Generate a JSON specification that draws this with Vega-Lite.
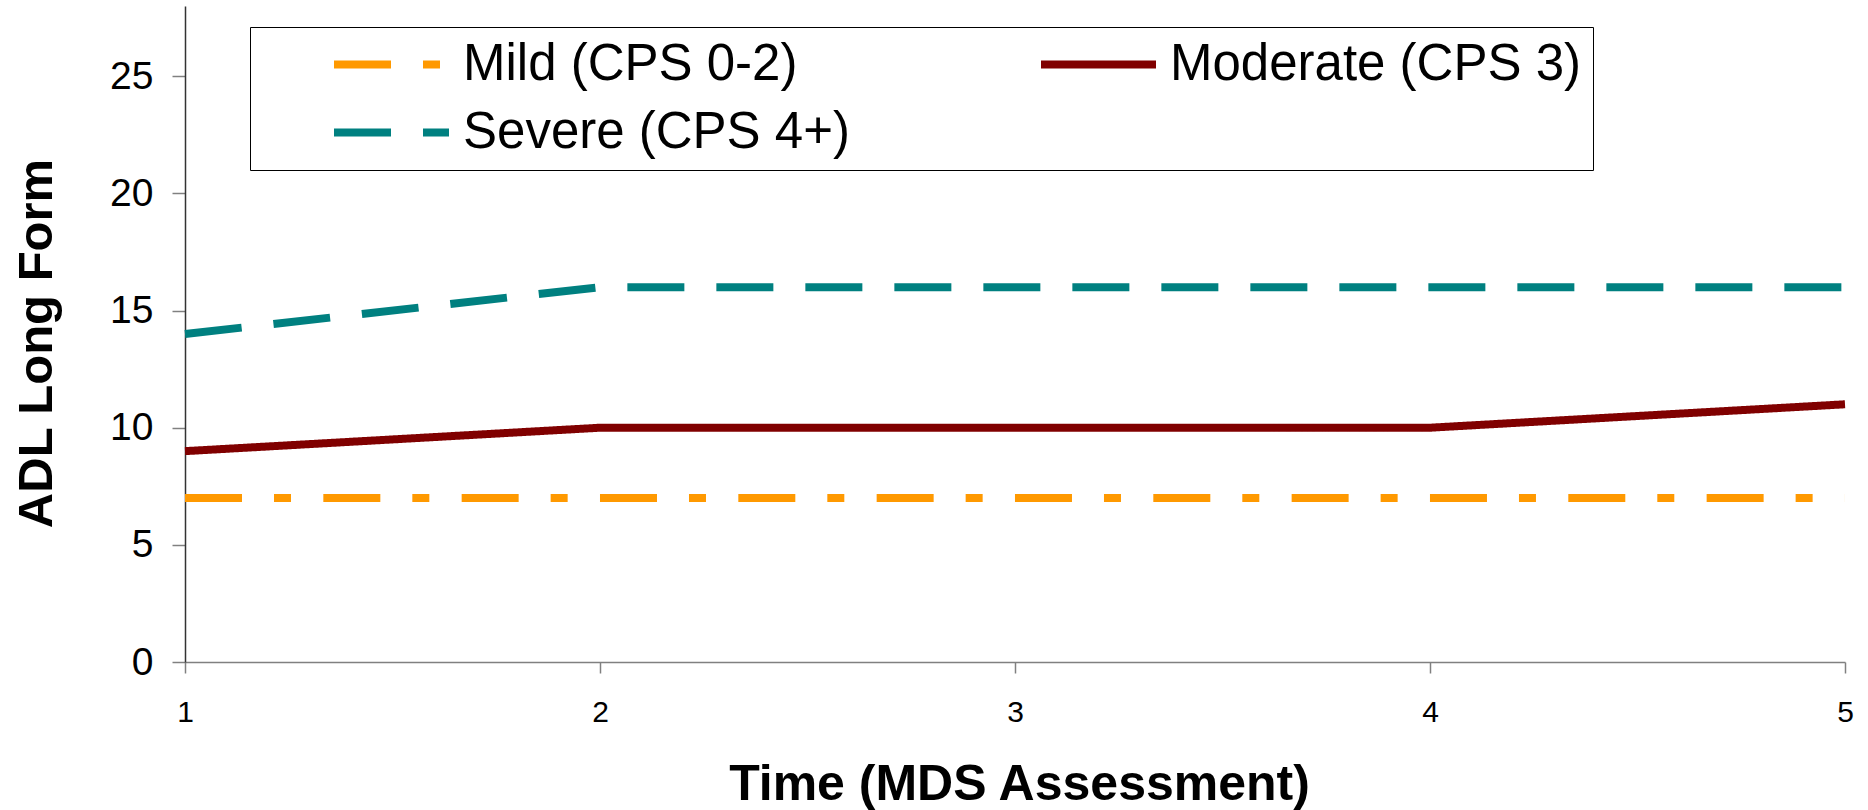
{
  "$schema": "https://vega.github.io/schema/vega-lite/v6.json",
  "width": 1660,
  "height": 656,
  "autosize": {"type": "none"},
  "padding": {"left": 185, "top": 6, "right": 23, "bottom": 148},
  "background": "white",
  "config": {"view": {"stroke": null}, "font": "Liberation Sans"},
  "data": {
    "values": [
      {"time": 1, "adl": 7, "series": "Mild (CPS 0-2)"},
      {"time": 2, "adl": 7, "series": "Mild (CPS 0-2)"},
      {"time": 3, "adl": 7, "series": "Mild (CPS 0-2)"},
      {"time": 4, "adl": 7, "series": "Mild (CPS 0-2)"},
      {"time": 5, "adl": 7, "series": "Mild (CPS 0-2)"},
      {"time": 1, "adl": 9, "series": "Moderate (CPS 3)"},
      {"time": 2, "adl": 10, "series": "Moderate (CPS 3)"},
      {"time": 3, "adl": 10, "series": "Moderate (CPS 3)"},
      {"time": 4, "adl": 10, "series": "Moderate (CPS 3)"},
      {"time": 5, "adl": 11, "series": "Moderate (CPS 3)"},
      {"time": 1, "adl": 14, "series": "Severe (CPS 4+)"},
      {"time": 2, "adl": 16, "series": "Severe (CPS 4+)"},
      {"time": 3, "adl": 16, "series": "Severe (CPS 4+)"},
      {"time": 4, "adl": 16, "series": "Severe (CPS 4+)"},
      {"time": 5, "adl": 16, "series": "Severe (CPS 4+)"}
    ]
  },
  "mark": {"type": "line", "strokeWidth": 8},
  "encoding": {
    "x": {
      "field": "time",
      "type": "quantitative",
      "scale": {"domain": [1, 5], "nice": false, "zero": false},
      "axis": {
        "values": [1, 2, 3, 4, 5],
        "format": "d",
        "grid": false,
        "tickSize": 11,
        "tickColor": "#808080",
        "tickWidth": 1.5,
        "domainColor": "#808080",
        "domainWidth": 1.5,
        "labelFontSize": 30,
        "labelPadding": 24,
        "labelColor": "black",
        "labelFlush": false,
        "title": "Time (MDS Assessment)",
        "titleFont": "Liberation Sans",
        "titleFontSize": 50,
        "titleFontWeight": "bold",
        "titleColor": "black",
        "titleX": 834,
        "titleY": 137,
        "titleBaseline": "alphabetic",
        "titleAlign": "center"
      }
    },
    "y": {
      "field": "adl",
      "type": "quantitative",
      "scale": {"domain": [0, 28], "nice": false},
      "axis": {
        "values": [0, 5, 10, 15, 20, 25],
        "grid": false,
        "tickSize": 13,
        "tickColor": "#808080",
        "tickWidth": 1.5,
        "domainColor": "#333333",
        "domainWidth": 1.5,
        "labelFontSize": 39,
        "labelPadding": 19,
        "labelColor": "black",
        "labelFlush": false,
        "title": "ADL Long Form",
        "titleFont": "Liberation Sans",
        "titleFontSize": 49,
        "titleFontWeight": "bold",
        "titleColor": "black",
        "titleAngle": -90,
        "titleX": -134,
        "titleY": 337,
        "titleBaseline": "alphabetic",
        "titleAlign": "center"
      }
    },
    "color": {
      "field": "series",
      "type": "nominal",
      "scale": {
        "domain": ["Mild (CPS 0-2)", "Moderate (CPS 3)", "Severe (CPS 4+)"],
        "range": ["#FF9900", "#800000", "#008080"]
      },
      "legend": {
        "orient": "none",
        "legendX": 65,
        "legendY": 21,
        "title": null,
        "direction": "horizontal",
        "columns": 2,
        "symbolType": "stroke",
        "symbolSize": 13225,
        "symbolStrokeWidth": 8,
        "clipHeight": 51,
        "labelFontSize": 51,
        "labelFont": "Liberation Sans",
        "labelColor": "black",
        "labelOffset": 10,
        "labelLimit": 1000,
        "columnPadding": 119,
        "rowPadding": 16,
        "padding": 12,
        "symbolOffset": 68,
        "strokeColor": "black",
        "fillColor": "white",
        "encoding": {
          "symbols": {
            "update": {
              "strokeCap": {"signal": "datum.label === 'Moderate (CPS 3)' ? 'round' : 'butt'"}
            }
          }
        }
      }
    },
    "strokeDash": {
      "field": "series",
      "type": "nominal",
      "scale": {
        "domain": ["Mild (CPS 0-2)", "Moderate (CPS 3)", "Severe (CPS 4+)"],
        "range": [[57, 32, 17, 32.33], [1, 0], [57, 32]]
      },
      "legend": {
        "orient": "none",
        "legendX": 65,
        "legendY": 21,
        "title": null,
        "direction": "horizontal",
        "columns": 2,
        "symbolType": "stroke",
        "symbolSize": 13225,
        "symbolStrokeWidth": 8,
        "clipHeight": 51,
        "labelFontSize": 51,
        "labelFont": "Liberation Sans",
        "labelColor": "black",
        "labelOffset": 10,
        "labelLimit": 1000,
        "columnPadding": 119,
        "rowPadding": 16,
        "padding": 12,
        "symbolOffset": 68,
        "strokeColor": "black",
        "fillColor": "white",
        "encoding": {
          "symbols": {
            "update": {
              "strokeCap": {"signal": "datum.label === 'Moderate (CPS 3)' ? 'round' : 'butt'"}
            }
          }
        }
      }
    }
  }
}
